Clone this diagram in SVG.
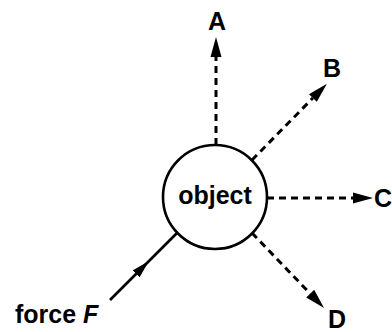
<svg xmlns="http://www.w3.org/2000/svg" width="392" height="332" viewBox="0 0 392 332">
  <style>
    .lbl { font-family: "Liberation Sans", Arial, sans-serif; font-weight: bold; font-size: 25px; fill: #000; }
    .dash { stroke: #000; stroke-width: 3; fill: none; stroke-dasharray: 7 5; marker-end: url(#head); }
    .solid { stroke: #000; stroke-width: 2.6; fill: none; }
  </style>
  <defs>
    <marker id="head" markerUnits="userSpaceOnUse" markerWidth="22" markerHeight="14" viewBox="0 -7 22 14" refX="0" refY="0" orient="auto">
      <path d="M0,-5.5 L20,0 L0,5.5 Z" fill="#000"/>
    </marker>
    <marker id="headmid" markerUnits="userSpaceOnUse" markerWidth="20" markerHeight="14" viewBox="0 -7 20 14" refX="0" refY="0" orient="auto">
      <path d="M0,-5 L18,0 L0,5 Z" fill="#000"/>
    </marker>
  </defs>

  <g id="connectors">
    <line id="to-A" class="dash" x1="216" y1="145" x2="216" y2="57"/>
    <line id="to-B" class="dash" x1="252" y1="160" x2="312.9" y2="98"/>
    <line id="to-C" class="dash" x1="267" y1="198" x2="353" y2="198"/>
    <line id="to-D" class="dash" x1="252" y1="233" x2="310.2" y2="293.6"/>
    <path id="force" class="solid" d="M110,300 L136,274 L177,233" marker-mid="url(#headmid)"/>
  </g>

  <g id="object">
    <circle cx="215" cy="197" r="52" fill="#fff" stroke="#000" stroke-width="2.6"/>
    <text class="lbl" x="215" y="204" text-anchor="middle" font-size="24">object</text>
  </g>
  <g id="A"><text class="lbl" x="217" y="30" text-anchor="middle">A</text></g>
  <g id="B"><text class="lbl" x="323" y="77">B</text></g>
  <g id="C"><text class="lbl" x="374" y="207">C</text></g>
  <g id="D"><text class="lbl" x="328" y="328">D</text></g>
  <g id="force-label"><text class="lbl" x="15" y="323">force <tspan font-style="italic">F</tspan></text></g>
</svg>
